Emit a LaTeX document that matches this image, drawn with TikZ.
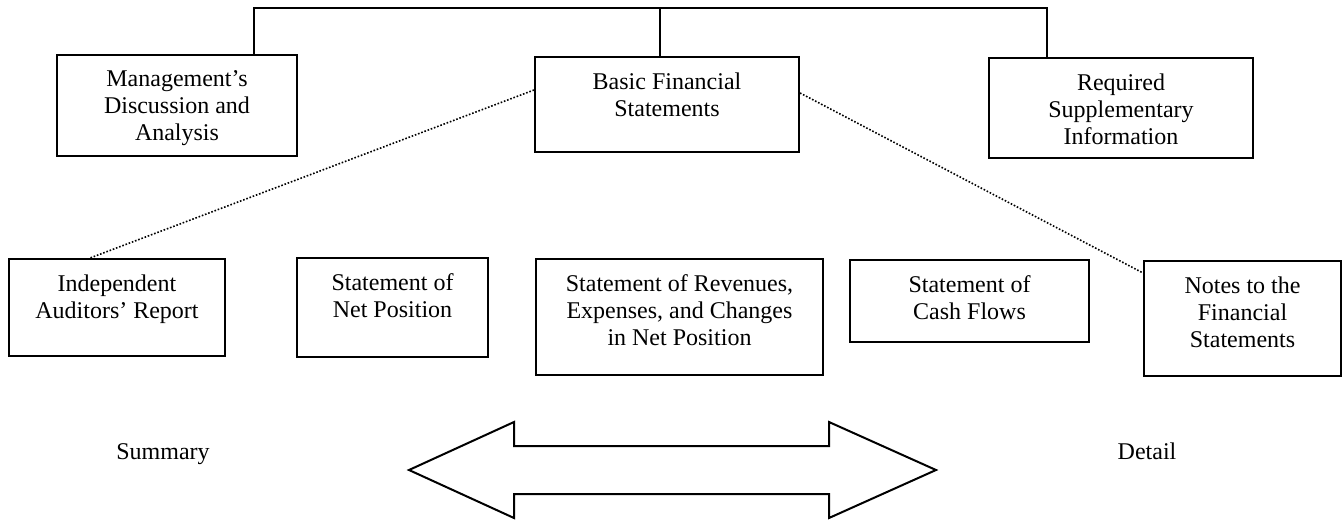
\documentclass[tikz,border=0pt]{standalone}
\usepackage{fontspec}
\setmainfont{Liberation Serif}
\newcommand{\boxtext}[3]{\parbox[c][#2][t]{#1}{\centering\vspace*{8pt}#3}}

\begin{document}
\begin{tikzpicture}[x=0.5pt, y=-0.5pt, font=\fontsize{12pt}{13.5pt}\selectfont,
	stmt/.style={rectangle, draw, line width=1pt, inner sep=0pt, anchor=north west},
	link/.style={line width=0.8pt},
	dots/.style={line width=0.8pt, dash pattern=on 0.8pt off 0.9pt}]
		\useasboundingbox (0, 0) rectangle (1343, 520);
		\node(MDA) at (56, 54)[stmt]{\boxtext{120pt}{50.5pt}{Management’s\\Discussion and\\Analysis}};
		\node(BFS) at (534, 56)[stmt]{\boxtext{132pt}{47.5pt}{Basic Financial\\Statements}};
		\node(RSI) at (988, 57)[stmt]{\boxtext{132pt}{50pt}{Required\\Supplementary\\Information}};
		\node(IAR) at (8, 258)[stmt]{\boxtext{108pt}{48.5pt}{Independent\\Auditors’ Report}};
		\node(SNP) at (296, 257)[stmt]{\boxtext{95.5pt}{49.5pt}{Statement of\\Net Position}};
		\node(SRE) at (535, 258)[stmt]{\boxtext{143.5pt}{58pt}{Statement of Revenues,\\Expenses, and Changes\\in Net Position}};
		\node(SCF) at (849, 259)[stmt]{\boxtext{119.5pt}{41pt}{Statement of\\Cash Flows}};
		\node(NFS) at (1143, 260)[stmt]{\boxtext{98.5pt}{57.5pt}{Notes to the\\Financial\\Statements}};
		\node(SUM) at (163, 459)[anchor=base]{Summary};
		\node(DET) at (1147, 459)[anchor=base]{Detail};
		\coordinate(BL) at (254, 8);
		\coordinate(BM) at (660, 8);
		\coordinate(BR) at (1047, 8);
		\coordinate(DL1) at (534, 90);
		\coordinate(DL2) at (90, 258);
		\coordinate(DR1) at (798, 93);
		\coordinate(DR2) at (1143, 273);
		\draw[link] (MDA.north -| BL)--(BL)--(BR)--(RSI.north -| BR);
		\draw[link] (BM)--(BFS.north -| BM);
		\draw[dots] (BFS.west |- DL1)--(IAR.north -| DL2);
		\draw[dots] (BFS.east |- DR1)--(NFS.west |- DR2);
		\draw[line width=1pt, line join=miter] (409, 470)--(514, 422)--(514, 446)--(829, 446)--(829, 422)--(936, 470)--(829, 518)--(829, 494)--(514, 494)--(514, 518)--cycle;
		\end{tikzpicture}
\end{document}
